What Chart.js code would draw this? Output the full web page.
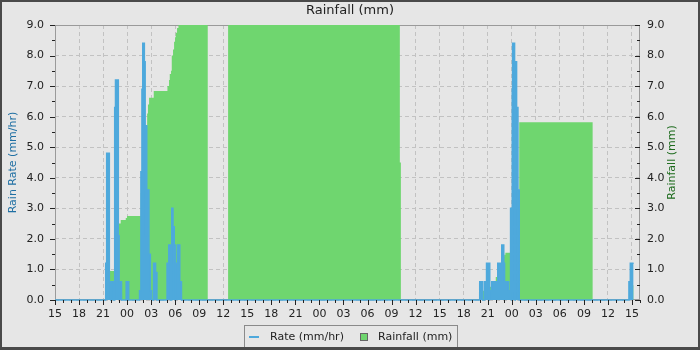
<!DOCTYPE html>
<html>
<head>
<meta charset="utf-8">
<script src="https://cdn.jsdelivr.net/npm/chart.js@4/dist/chart.umd.min.js"></script>
<style>
  body { margin: 0; background: #e6e6e6; }
  canvas { display: block; }
</style>
</head>
<body>
<canvas id="rainChart" width="700" height="350"></canvas>
<script>
// hours since 15:00 on the first day, value holds until the next point
const rateHours = [0, 6.33, 6.45, 6.78, 6.95, 7.05, 7.3, 7.45, 7.55, 7.9, 8.0, 8.3, 8.88, 9.05, 9.1, 9.2,
  10.55, 10.72, 10.85, 10.95, 11.15, 11.25, 11.3, 11.35, 11.45, 11.58, 11.72, 11.9, 12.05,
  12.3, 12.55, 12.72, 13.98, 14.2, 14.42, 14.57, 14.72, 14.88, 15.0, 15.05, 15.27, 15.57, 15.78,
  53.0, 53.36, 53.6, 53.85, 54.1, 54.2, 54.25, 54.5, 55.25, 55.75, 56.0, 56.1, 56.6, 56.85,
  57.0, 57.06, 57.1, 57.35, 57.4, 57.45, 57.6, 57.77, 57.93, 71.62, 71.79, 72.2];
const rateValues = [0, 1.2, 4.8, 0.6, 0, 0.6, 0, 6.3, 7.2, 2.1, 0.6, 0, 0.6, 0, 0.6, 0,
  0.3, 4.2, 6.9, 8.4, 7.8, 5.7, 2.1, 5.7, 3.3, 3.6, 1.5, 0.3, 0,
  1.2, 0.9, 0, 1.2, 1.8, 0, 3.0, 2.4, 1.8, 0, 1.2, 1.8, 0.6, 0,
  0.6, 0, 0.6, 1.2, 0, 1.2, 0.3, 0.6, 1.2, 1.8, 1.2, 0.6, 0.3, 3.0,
  0, 6.9, 8.4, 6.9, 0, 7.8, 6.3, 3.6, 0, 0.6, 1.2, 1.2];

const rainHours = [0, 6.8, 7.7, 7.87, 8.2, 8.83, 8.99, 10.7, 10.95, 11.2, 11.5, 11.6, 11.74,
  12.32, 14.03, 14.23, 14.32, 14.48, 14.57, 14.73, 14.86, 14.98, 15.07, 15.23, 15.4,
  19.06, 21.6, 43.03, 43.16, 53.4, 54.0, 55.0, 55.5, 55.9, 56.05, 56.2, 57.0, 57.6, 57.93,
  67.09, 71.79, 72.2];
const rainValues = [0, 0.95, 2.1, 2.5, 2.62, 2.68, 2.75, 3.5, 4.8, 5.7, 6.1, 6.4, 6.62,
  6.84, 7.0, 7.2, 7.4, 7.5, 8.0, 8.2, 8.45, 8.6, 8.75, 8.9, 10,
  0, 10, 4.5, 0, 0.3, 0.43, 0.75, 1.0, 1.42, 1.48, 1.55, 2.7, 3.6, 5.82,
  0, 0.48, 0.48];

const hourLabels = ['15', '18', '21', '00', '03', '06', '09', '12', '15', '18', '21', '00', '03',
  '06', '09', '12', '15', '18', '21', '00', '03', '06', '09', '12', '15'];
const valueLabels = ['0.0', '1.0', '2.0', '3.0', '4.0', '5.0', '6.0', '7.0', '8.0', '9.0'];
const seriesNames = ['Rate (mm/hr)', 'Rainfall (mm)'];

const rateColor = '#4ea9dc';
const rainColor = '#6fd66f';
const gridColor = '#c2c2c2';
const textColor = '#222';

Chart.defaults.font.family = 'DejaVu Sans';
Chart.defaults.font.size = 11;
Chart.defaults.color = textColor;

// fond, cadre du graphe, graduations, legende encadree
const decor = {
    id: 'decor',
    beforeDraw(chart) {
        const ctx = chart.ctx;
        ctx.save();
        ctx.fillStyle = '#e6e6e6';
        ctx.fillRect(0, 0, chart.width, chart.height);
        ctx.restore();
    },
    beforeDatasetsDraw(chart) {
        const {ctx, chartArea: a} = chart;
        ctx.save();
        ctx.strokeStyle = '#9a9a9a';
        ctx.lineWidth = 1;
        ctx.strokeRect(Math.round(a.left) + 0.5, Math.round(a.top) + 0.5,
            Math.round(a.right - a.left) - 1, Math.round(a.bottom - a.top) - 1);
        ctx.restore();
    },
    afterDraw(chart) {
        const {ctx, chartArea: a, scales} = chart;
        ctx.save();
        ctx.strokeStyle = '#222';
        ctx.lineWidth = 1;
        ctx.beginPath();
        const bottom = Math.round(a.bottom);
        for (let h = 0; h <= 73; h++) {
            const x = Math.round(scales.x.getPixelForValue(h)) + 0.5;
            const len = h % 3 === 0 ? 5 : 3;
            ctx.moveTo(x, bottom);
            ctx.lineTo(x, bottom + len);
        }
        const left = Math.round(a.left), right = Math.round(a.right);
        for (let v = 0; v <= 9; v += 0.5) {
            const len = v % 1 === 0 ? 5 : 3;
            const yl = Math.round(scales.yRate.getPixelForValue(v)) + 0.5;
            ctx.moveTo(left - len, yl);
            ctx.lineTo(left, yl);
            const yr = Math.round(scales.yRain.getPixelForValue(v)) + 0.5;
            ctx.moveTo(right - len, yr);
            ctx.lineTo(right, yr);
        }
        ctx.stroke();

        // titre de l'axe de droite, lu de bas en haut
        ctx.fillStyle = '#1d6b1d';
        ctx.font = '11px "DejaVu Sans"';
        ctx.textAlign = 'center';
        ctx.textBaseline = 'middle';
        ctx.translate(672, (a.top + a.bottom) / 2);
        ctx.rotate(-Math.PI / 2);
        ctx.fillText(seriesNames[1], 0, 0);
        ctx.setTransform(1, 0, 0, 1, 0, 0);

        // legende
        const ly = 337;
        ctx.textAlign = 'left';
        ctx.fillStyle = textColor;
        ctx.strokeStyle = '#8a8a8a';
        ctx.strokeRect(244.5, 325.5, 213, 22);
        ctx.strokeStyle = rateColor;
        ctx.lineWidth = 2;
        ctx.beginPath();
        ctx.moveTo(249, ly);
        ctx.lineTo(259, ly);
        ctx.stroke();
        ctx.fillText(seriesNames[0], 270, ly);
        ctx.fillStyle = rainColor;
        ctx.fillRect(360, ly - 4, 8, 8);
        ctx.strokeStyle = '#666';
        ctx.lineWidth = 1;
        ctx.strokeRect(360.5, ly - 3.5, 7, 7);
        ctx.fillStyle = textColor;
        ctx.fillText(seriesNames[1], 378, ly);

        // bordure exterieure
        ctx.strokeStyle = '#4a4a4a';
        ctx.lineWidth = 2;
        ctx.strokeRect(1, 1, chart.width - 2, chart.height - 2);
        ctx.fillStyle = '#4a4a4a';
        ctx.fillRect(0, chart.height - 3, chart.width, 3);
        ctx.restore();
    }
};

const ratePoints = rateHours.map((h, i) => ({x: h, y: rateValues[i]}));
const rainPoints = rainHours.map((h, i) => ({x: h, y: rainValues[i]}));

new Chart(document.getElementById('rainChart'), {
    type: 'line',
    data: {
        datasets: [{
            label: seriesNames[0],
            data: ratePoints,
            yAxisID: 'yRate',
            stepped: true,
            borderColor: rateColor,
            backgroundColor: rateColor,
            borderWidth: 1.5,
            pointRadius: 0,
            fill: 'origin',
            clip: false,
            order: 0
        }, {
            label: seriesNames[1],
            data: rainPoints,
            yAxisID: 'yRain',
            stepped: true,
            borderWidth: 0,
            borderColor: rainColor,
            backgroundColor: rainColor,
            pointRadius: 0,
            fill: 'origin',
            clip: {left: 0, top: 1, right: 0, bottom: 0},
            order: 1
        }]
    },
    options: {
        responsive: false,
        devicePixelRatio: 1,
        animation: false,
        layout: {padding: {left: 0, right: 0, top: 0, bottom: 28}},
        plugins: {
            title: {
                display: true,
                text: 'Rainfall (mm)',
                color: textColor,
                font: {size: 13, weight: 'normal'},
                padding: {top: 3, bottom: 6.4}
            },
            legend: {display: false},
            tooltip: {enabled: false}
        },
        scales: {
            x: {
                type: 'linear',
                min: 0,
                max: 73,
                afterBuildTicks: (scale) => {
                    scale.ticks = hourLabels.map((_, i) => ({value: i * 3}));
                },
                afterFit: (scale) => { scale.height = 22; },
                ticks: {
                    autoSkip: false,
                    maxRotation: 0,
                    padding: 8,
                    callback: (value, index) => hourLabels[index]
                },
                grid: {color: gridColor, drawTicks: false},
                border: {display: false, dash: [4, 3]}
            },
            yRate: {
                position: 'left',
                min: 0,
                max: 9,
                afterFit: (scale) => { scale.width = 55; },
                ticks: {
                    stepSize: 1,
                    padding: 11,
                    callback: (value, index) => valueLabels[index]
                },
                title: {
                    display: true,
                    text: 'Rain Rate (mm/hr)',
                    color: '#1f6fa3',
                    font: {size: 11},
                    padding: {top: 7, bottom: 0}
                },
                grid: {color: gridColor, drawTicks: false},
                border: {display: false, dash: [4, 3]}
            },
            yRain: {
                position: 'right',
                min: 0,
                max: 9,
                afterFit: (scale) => { scale.width = 60; },
                ticks: {
                    stepSize: 1,
                    padding: 7,
                    callback: (value, index) => valueLabels[index]
                },
                grid: {display: false, drawTicks: false},
                border: {display: false}
            }
        }
    },
    plugins: [decor]
});
</script>
</body>
</html>
